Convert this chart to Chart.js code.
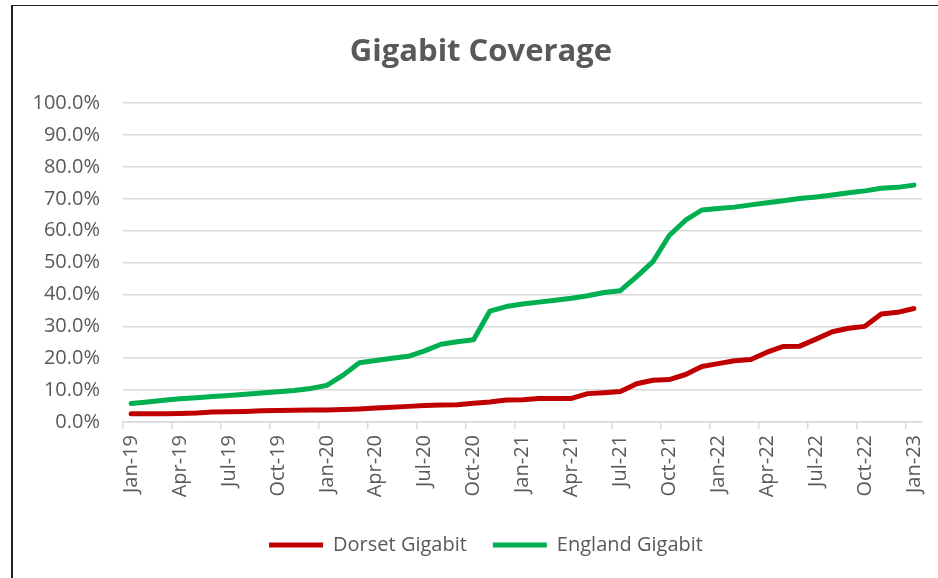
<!DOCTYPE html>
<html>
<head>
<meta charset="utf-8">
<script src="https://cdn.jsdelivr.net/npm/chart.js@4/dist/chart.umd.min.js"></script>
<style>
  body { margin: 0; background: #fff; }
  #wrap { position: relative; width: 938px; height: 578px; overflow: hidden; }
  #frame { position: absolute; left: 11px; top: 5px; width: 940px; height: 600px;
           border-left: 2px solid #222; border-top: 1px solid #222; pointer-events: none; }
  canvas { position: absolute; left: 0; top: 0; }
</style>
</head>
<body>
<div id="wrap">
  <canvas id="myChart" width="938" height="578"></canvas>
  <div id="frame"></div>
</div>
<script>
const months = ['Jan', 'Feb', 'Mar', 'Apr', 'May', 'Jun', 'Jul', 'Aug', 'Sep', 'Oct', 'Nov', 'Dec'];
const years = ['19', '20', '21', '22', '23'];

// Jan-19 .. Jan-23, monthly
const labels = [];
years.forEach(y => months.forEach(m => labels.push(m + '-' + y)));
labels.length = 49;

const dorset = [
  2.6, 2.6, 2.6, 2.7, 2.8, 3.1, 3.2, 3.3, 3.5, 3.6, 3.7, 3.8,
  3.8, 3.9, 4.1, 4.4, 4.6, 4.9, 5.2, 5.3, 5.4, 5.9, 6.3, 6.9,
  7.0, 7.4, 7.4, 7.4, 8.9, 9.2, 9.6, 12.0, 13.1, 13.3, 14.9, 17.4,
  18.3, 19.2, 19.6, 21.9, 23.7, 23.8, 26.0, 28.3, 29.4, 30.0, 33.9, 34.4,
  35.6
];

const england = [
  5.8, 6.3, 6.8, 7.3, 7.6, 8.0, 8.3, 8.7, 9.1, 9.5, 9.9, 10.5,
  11.5, 14.7, 18.6, 19.3, 20.0, 20.6, 22.3, 24.4, 25.2, 25.8, 34.8, 36.2,
  37.0, 37.6, 38.2, 38.8, 39.6, 40.6, 41.2, 45.6, 50.3, 58.5, 63.3, 66.5,
  67.0, 67.4, 68.1, 68.8, 69.4, 70.1, 70.6, 71.2, 71.9, 72.5, 73.3, 73.6,
  74.3
];

const textColor = '#595959';
const gridColor = '#d9d9d9';
const font = 'Open Sans';

// nudge title and legend a bit right, like the original
const boxShift = {
  id: 'boxShift',
  afterLayout(chart) {
    chart.legend.left += 15;
    chart.legend.right += 15;
    chart.titleBlock.left += 10;
    chart.titleBlock.right += 10;
  }
};

const ctx = document.getElementById('myChart').getContext('2d');
const myChart = new Chart(ctx, {
  type: 'line',
  data: {
    labels: labels,
    datasets: [{
      label: 'Dorset Gigabit',
      data: dorset,
      borderColor: '#c00000',
      backgroundColor: '#c00000',
      borderWidth: 5,
      borderCapStyle: 'round',
      borderJoinStyle: 'round',
      pointRadius: 0,
      tension: 0
    }, {
      label: 'England Gigabit',
      data: england,
      borderColor: '#00b050',
      backgroundColor: '#00b050',
      borderWidth: 5,
      borderCapStyle: 'round',
      borderJoinStyle: 'round',
      pointRadius: 0,
      tension: 0
    }]
  },
  plugins: [boxShift],
  options: {
    responsive: false,
    animation: false,
    layout: { padding: { left: 20, right: 16, top: 20, bottom: 13 } },
    plugins: {
      title: {
        display: true,
        text: 'Gigabit Coverage',
        color: textColor,
        font: { family: font, size: 31, weight: 'bold' },
        padding: { top: 14, bottom: 32 }
      },
      legend: {
        position: 'bottom',
        labels: {
          color: textColor,
          font: { family: font, size: 20 },
          usePointStyle: true,
          pointStyle: 'line',
          pointStyleWidth: 54,
          boxHeight: 20,
          padding: 26
        }
      },
      tooltip: { enabled: false }
    },
    scales: {
      x: {
        offset: true,
        afterFit: scale => {
          scale.height = 87;
          scale.paddingLeft = 0;
          scale.paddingRight = 0;
        },
        grid: {
          offset: true,
          drawOnChartArea: false,
          drawTicks: true,
          tickLength: 7,
          lineWidth: 1.5,
          color: c => (c.index % 3 === 0 ? gridColor : 'rgba(0,0,0,0)')
        },
        border: { color: gridColor, width: 1.5 },
        ticks: {
          autoSkip: false,
          minRotation: 90,
          maxRotation: 90,
          padding: 6,
          color: textColor,
          font: { family: font, size: 20 },
          callback: function (v, i) { return i % 3 === 0 ? this.getLabelForValue(v) : ''; }
        }
      },
      y: {
        min: 0,
        max: 100,
        afterFit: scale => { scale.width = 103; },
        grid: { color: gridColor, lineWidth: 1.5, drawTicks: false },
        border: { display: false },
        ticks: {
          stepSize: 10,
          padding: 23,
          color: textColor,
          font: { family: font, size: 20 },
          callback: v => v.toFixed(1) + '%'
        }
      }
    }
  }
});
</script>
</body>
</html>
